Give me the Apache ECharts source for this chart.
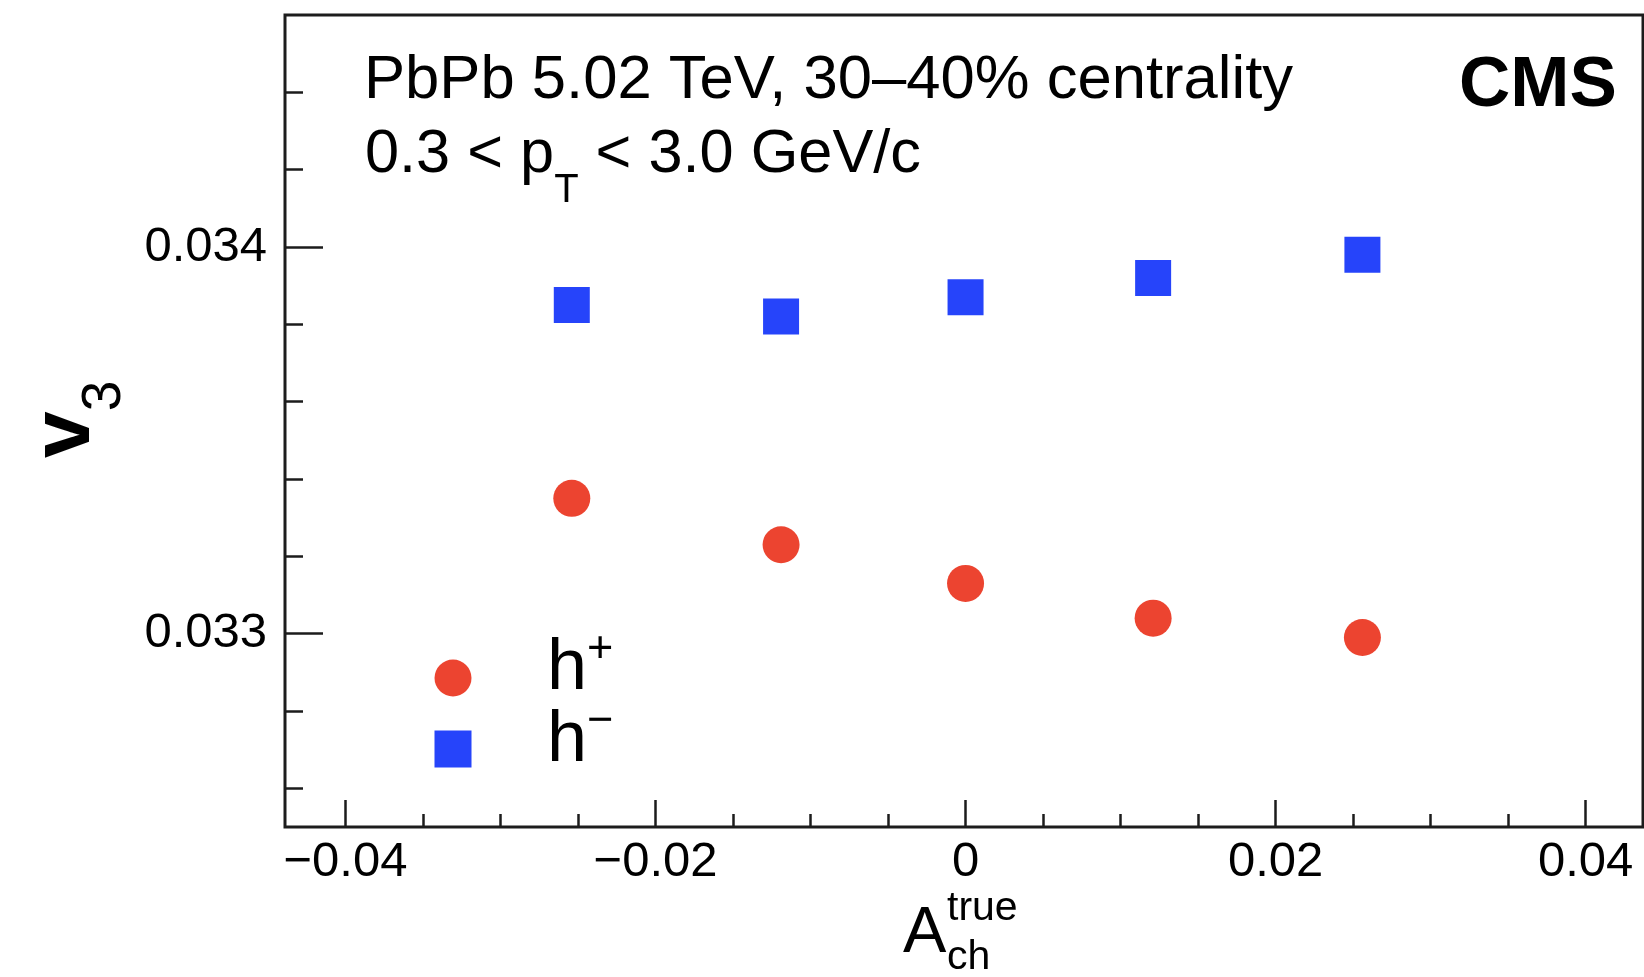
<!DOCTYPE html>
<html>
<head>
<meta charset="utf-8">
<script src="https://cdn.jsdelivr.net/npm/echarts@6/dist/echarts.min.js"></script>
<style>
html,body{margin:0;padding:0;background:#fff;}
#chart{width:1644px;height:977px;}
</style>
</head>
<body>
<div id="chart"></div>
<script>
// ---- data ----
const xValues = [-0.0254, -0.0119, 0.0, 0.0121, 0.0256];
const hPlus  = [0.03335, 0.03323, 0.03313, 0.03304, 0.03299];
const hMinus = [0.03385, 0.03382, 0.03387, 0.03392, 0.03398];
const seriesNames = ['h+', 'h\u2212'];
const xMajorTicks = [-0.04, -0.02, 0, 0.02, 0.04];
const xMinorTicks = [-0.035, -0.03, -0.025, -0.015, -0.01, -0.005, 0.005, 0.01, 0.015, 0.025, 0.03, 0.035];
const yMajorTicks = [0.033, 0.034];
const yMinorTicks = [0.0326, 0.0328, 0.0332, 0.0334, 0.0336, 0.0338, 0.0342, 0.0344];

const FONT = '"Liberation Sans", Arial, Helvetica, sans-serif';
const AX = '#1c1c1c';
const RED = '#ec4430';
const BLUE = '#2644fa';

const chart = echarts.init(document.getElementById('chart'), null, {renderer: 'canvas'});

function fmtX(v) {
  if (Math.abs(v) < 1e-12) return '0';
  const s = Math.abs(v).toFixed(2);
  return (v < 0 ? '\u2212' : '') + s;
}

const xRange = {min: -0.0439, max: 0.0437};
const yRange = {min: 0.0325, max: 0.0346};

function legendLabel(sym, x, y) {
  return {
    type: 'text', z: 100, x: x, y: y,
    style: {
      text: '{h|h}{s|' + sym + '}', x: 0, y: 0, align: 'left', verticalAlign: 'middle', fill: '#000',
      rich: {
        h: {fontSize: 72, fontFamily: FONT, fill: '#000', lineHeight: 84, verticalAlign: 'middle'},
        s: {fontSize: 45, fontFamily: FONT, fill: '#000', lineHeight: 45, verticalAlign: 'top'}
      }
    }
  };
}

const option = {
  backgroundColor: '#ffffff',
  animation: false,
  grid: {
    left: 285, top: 15, width: 1358, height: 812,
    show: true, borderColor: AX, borderWidth: 3, backgroundColor: 'transparent',
    containLabel: false, outerBoundsMode: 'none'
  },
  xAxis: [
    {
      type: 'value', min: xRange.min, max: xRange.max, position: 'bottom',
      axisLine: {show: false, onZero: false},
      splitLine: {show: false},
      axisTick: {show: true, inside: true, length: 27, customValues: xMajorTicks,
                 lineStyle: {color: AX, width: 2.5}},
      axisLabel: {show: true, customValues: xMajorTicks, margin: 11,
                  formatter: fmtX, color: '#000', fontSize: 49, fontFamily: FONT}
    },
    {
      type: 'value', min: xRange.min, max: xRange.max, position: 'bottom', gridIndex: 0,
      axisLine: {show: false, onZero: false},
      splitLine: {show: false},
      axisTick: {show: true, inside: true, length: 13, customValues: xMinorTicks,
                 lineStyle: {color: AX, width: 2.5}},
      axisLabel: {show: false}
    }
  ],
  yAxis: [
    {
      type: 'value', min: yRange.min, max: yRange.max, position: 'left',
      axisLine: {show: false, onZero: false},
      splitLine: {show: false},
      axisTick: {show: true, inside: true, length: 38, customValues: yMajorTicks,
                 lineStyle: {color: AX, width: 2.5}},
      axisLabel: {show: true, customValues: yMajorTicks, margin: 18, padding: [7, 0, 0, 0],
                  formatter: v => v.toFixed(3), color: '#000', fontSize: 49, fontFamily: FONT}
    },
    {
      type: 'value', min: yRange.min, max: yRange.max, position: 'left', gridIndex: 0,
      axisLine: {show: false, onZero: false},
      splitLine: {show: false},
      axisTick: {show: true, inside: true, length: 18, customValues: yMinorTicks,
                 lineStyle: {color: AX, width: 2.5}},
      axisLabel: {show: false}
    }
  ],
  legend: {
    orient: 'vertical', left: 434.5, top: 659.5, padding: 0,
    itemWidth: 37, itemHeight: 37, itemGap: 34,
    selectedMode: false,
    data: [
      {name: seriesNames[0], icon: 'circle'},
      {name: seriesNames[1], icon: 'rect'}
    ],
    formatter: function () { return ''; },
    textStyle: {fontSize: 10, lineHeight: 10}
  },
  series: [
    {
      name: seriesNames[0], type: 'scatter', xAxisIndex: 0, yAxisIndex: 0,
      symbol: 'circle', symbolSize: 37,
      itemStyle: {color: RED, opacity: 1},
      data: xValues.map((x, i) => [x, hPlus[i]])
    },
    {
      name: seriesNames[1], type: 'scatter', xAxisIndex: 0, yAxisIndex: 0,
      symbol: 'rect', symbolSize: 36,
      itemStyle: {color: BLUE, opacity: 1},
      data: xValues.map((x, i) => [x, hMinus[i]])
    }
  ],
  graphic: [
    {
      type: 'text', z: 100,
      style: {text: 'PbPb 5.02 TeV, 30\u201340% centrality', x: 364, y: 81,
              fontSize: 61.6, fontFamily: FONT, fill: '#000', align: 'left', verticalAlign: 'middle'}
    },
    {
      type: 'text', z: 100,
      style: {
        text: '{n|0.3 < p}{s|T}{n| < 3.0 GeV/c}', x: 365, y: 155,
        align: 'left', verticalAlign: 'middle', fill: '#000',
        rich: {
          n: {fontSize: 61.3, fontFamily: FONT, fill: '#000', lineHeight: 112, verticalAlign: 'middle'},
          s: {fontSize: 40, fontFamily: FONT, fill: '#000', lineHeight: 40, verticalAlign: 'bottom'}
        }
      }
    },
    {
      type: 'text', z: 100,
      style: {text: 'CMS', x: 1459, y: 86, fontSize: 71, fontWeight: 'bold', fontFamily: FONT,
              fill: '#000', align: 'left', verticalAlign: 'middle'}
    },
    // legend labels h+ / h-
    legendLabel('+', 547, 669),
    legendLabel('\u2212', 547, 741),
    // y-axis title v_3
    {
      type: 'text', z: 100, x: 66, y: 458, rotation: Math.PI / 2,
      style: {
        text: '{v|v}{s|3}', x: 0, y: 0, align: 'left', verticalAlign: 'middle', fill: '#000',
        rich: {
          v: {fontSize: 84, fontWeight: 'bold', fontFamily: FONT, fill: '#000', lineHeight: 132, verticalAlign: 'middle'},
          s: {fontSize: 55, fontFamily: FONT, fill: '#000', lineHeight: 55, verticalAlign: 'bottom'}
        }
      }
    },
    // x-axis title A_ch^true
    {
      type: 'text', z: 100,
      style: {text: 'A', x: 903, y: 934, fontSize: 65, fontFamily: FONT, fill: '#000',
              align: 'left', verticalAlign: 'middle'}
    },
    {
      type: 'text', z: 100,
      style: {text: 'true', x: 947, y: 909, fontSize: 41, fontFamily: FONT, fill: '#000',
              align: 'left', verticalAlign: 'middle'}
    },
    {
      type: 'text', z: 100,
      style: {text: 'ch', x: 947, y: 958, fontSize: 41, fontFamily: FONT, fill: '#000',
              align: 'left', verticalAlign: 'middle'}
    }
  ]
};

chart.setOption(option);
</script>
</body>
</html>
